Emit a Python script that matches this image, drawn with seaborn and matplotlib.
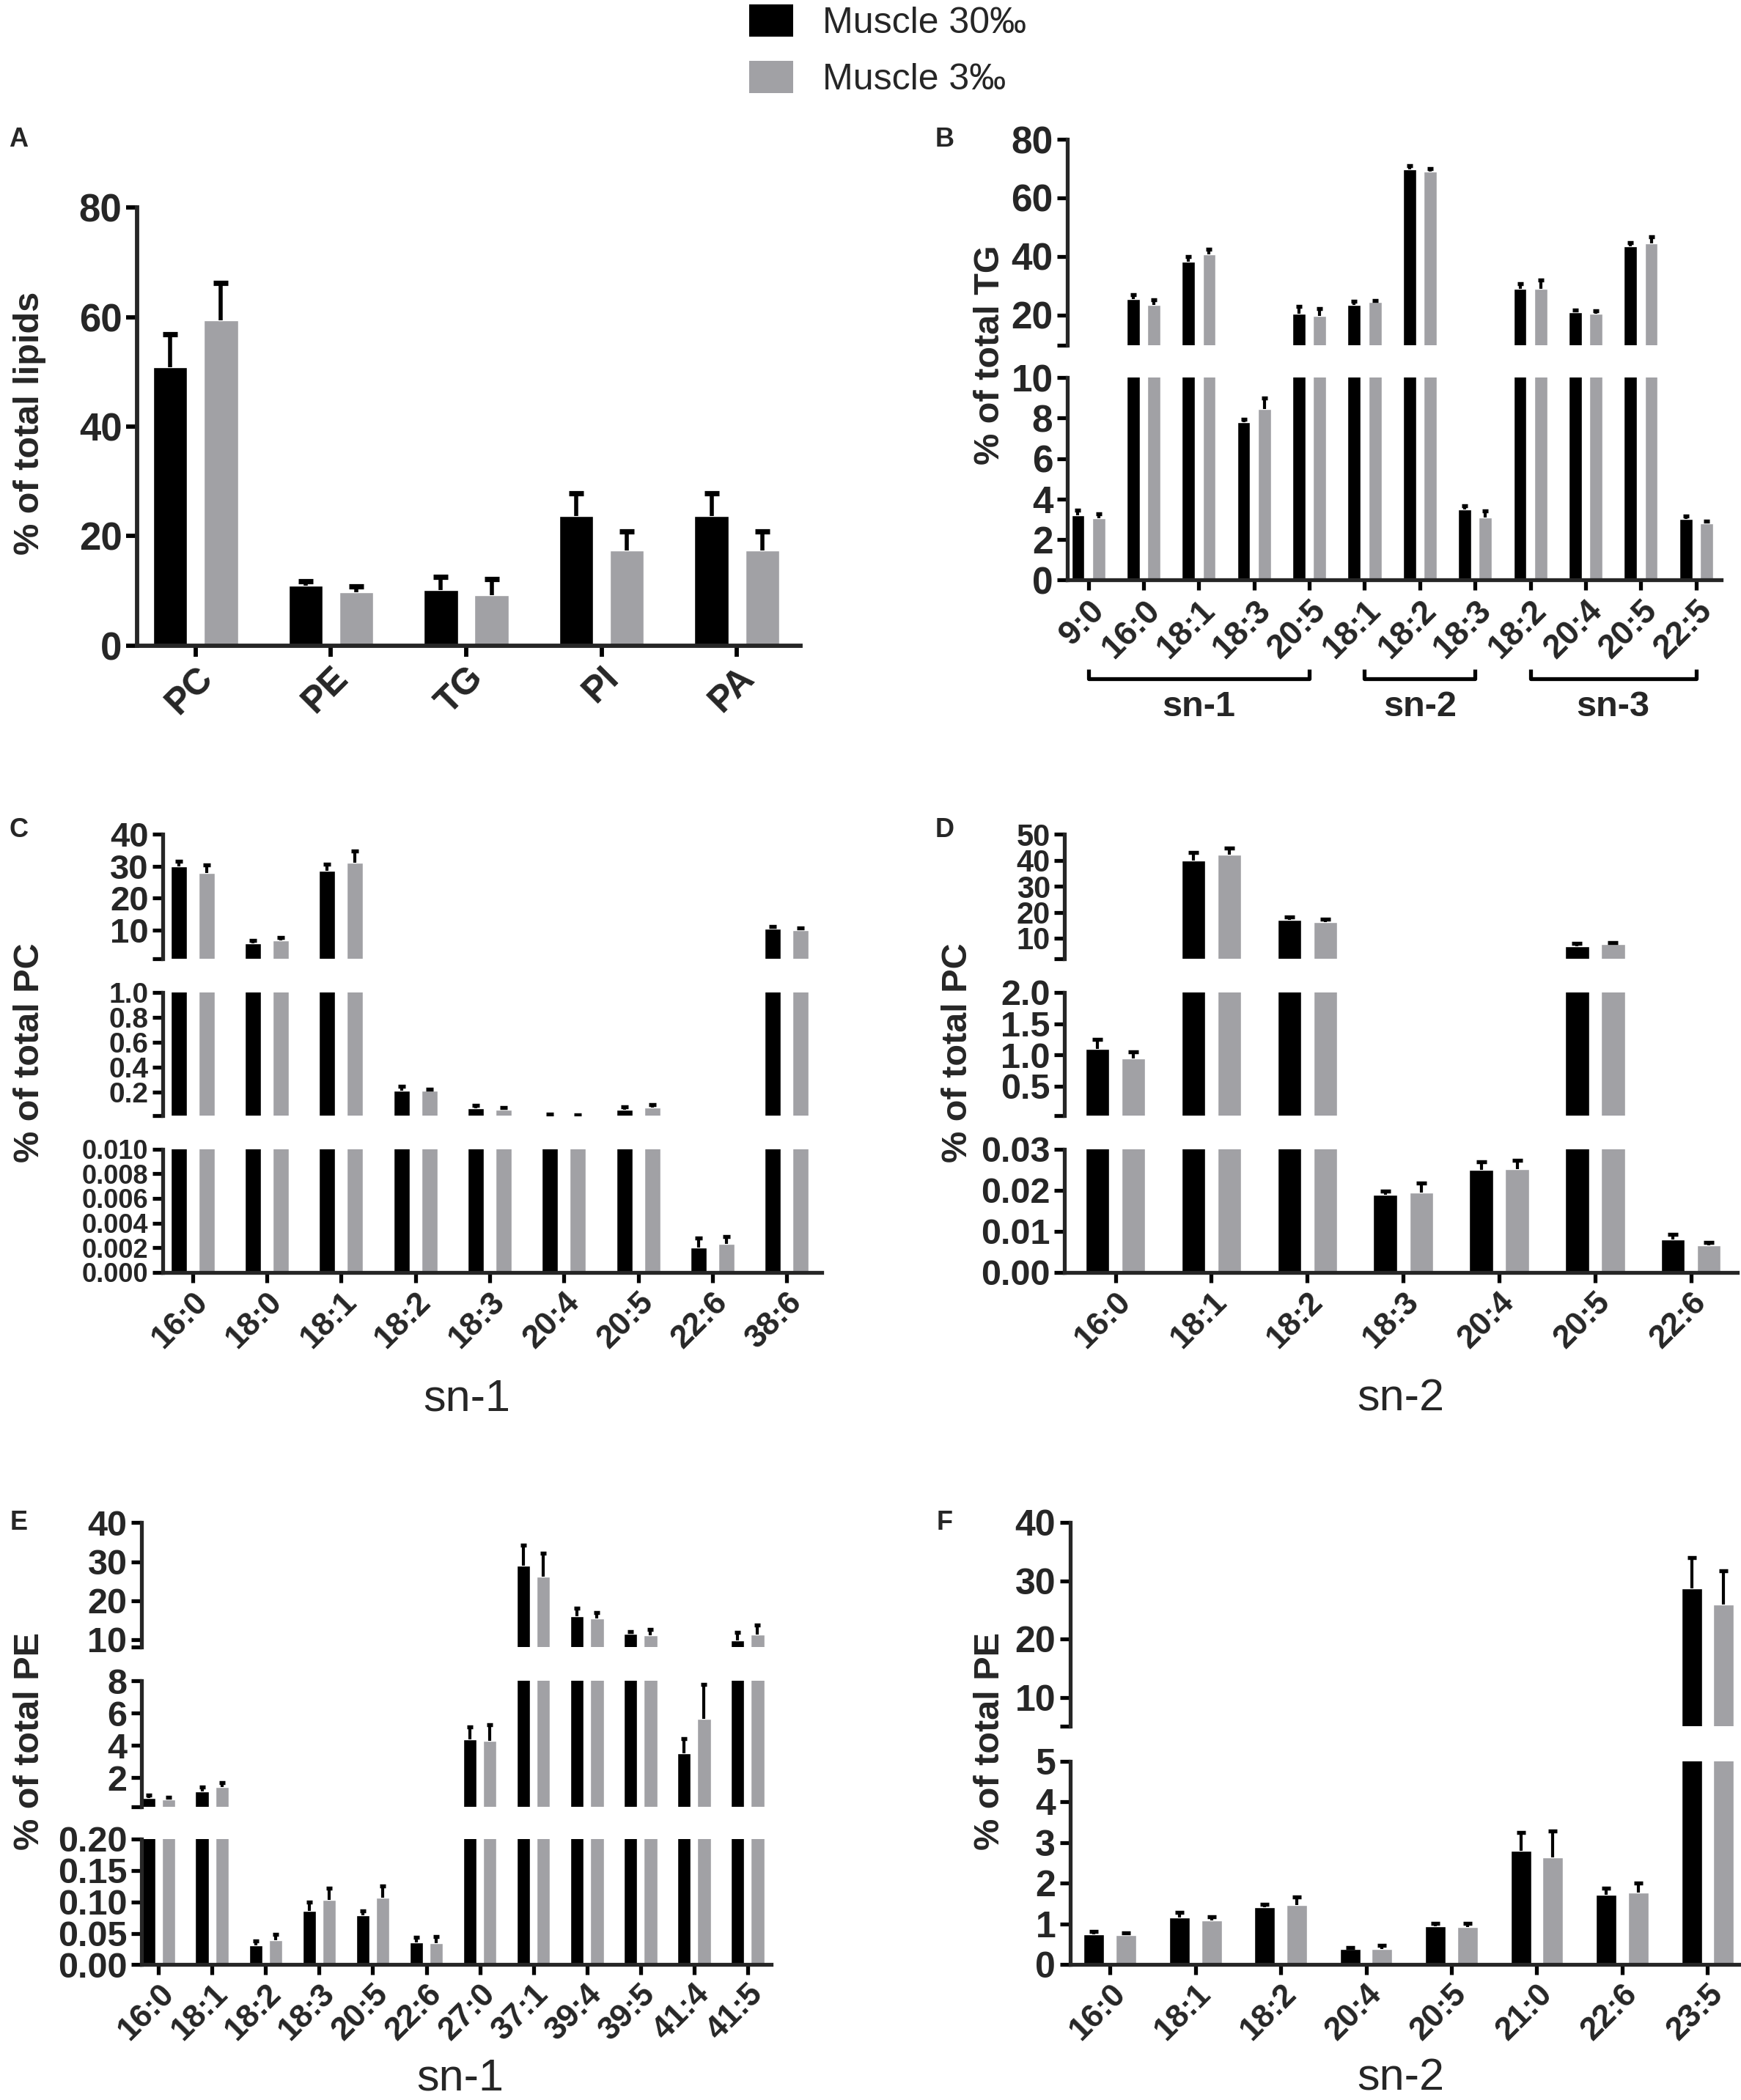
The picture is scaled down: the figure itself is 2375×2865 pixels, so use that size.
import numpy as np
import pandas as pd
import seaborn as sns
import matplotlib.pyplot as plt
from matplotlib.patches import Patch
import matplotlib.transforms as mtransforms

# ---- data ----
groups = ["Muscle 30‰", "Muscle 3‰"]

a_cats = ["PC", "PE", "TG", "PI", "PA"]
a_hi = [50.8, 11.0, 10.2, 23.6, 23.6]
a_hi_err = [6.1, 0.7, 2.4, 4.2, 4.2]
a_lo = [59.4, 9.7, 9.2, 17.4, 17.4]
a_lo_err = [6.8, 1.1, 3.0, 3.5, 3.5]

b_cats = ["9:0", "16:0", "18:1", "18:3", "20:5", "18:1", "18:2", "18:3",
          "18:2", "20:4", "20:5", "22:5"]
b_hi = [3.2, 25.3, 38.2, 7.8, 20.5, 23.3, 69.7, 3.5, 28.9, 20.8, 43.5, 3.0]
b_hi_err = [0.25, 1.5, 1.7, 0.15, 2.3, 1.4, 1.3, 0.15, 1.7, 0.9, 1.3, 0.15]
b_lo = [3.05, 23.3, 40.6, 8.45, 19.7, 24.4, 69.1, 3.1, 29.0, 20.3, 44.4, 2.8]
b_lo_err = [0.2, 1.8, 1.9, 0.55, 2.5, 0.5, 0.9, 0.3, 2.8, 1.0, 2.3, 0.1]
b_positions = [("sn-1", 0, 4), ("sn-2", 5, 7), ("sn-3", 8, 11)]

c_cats = ["16:0", "18:0", "18:1", "18:2", "18:3", "20:4", "20:5", "22:6", "38:6"]
c_hi = [30.0, 5.9, 28.6, 0.21, 0.071, 0.013, 0.056, 0.0020, 10.5]
c_hi_err = [1.6, 1.0, 2.1, 0.035, 0.022, 0.008, 0.024, 0.0008, 0.6]
c_lo = [27.9, 6.7, 31.2, 0.21, 0.056, 0.011, 0.077, 0.0023, 10.0]
c_lo_err = [2.5, 0.9, 3.6, 0.015, 0.021, 0.008, 0.019, 0.0006, 0.7]

d_cats = ["16:0", "18:1", "18:2", "18:3", "20:4", "20:5", "22:6"]
d_hi = [1.10, 40.0, 17.1, 0.0188, 0.0249, 7.0, 0.0080]
d_hi_err = [0.15, 2.9, 1.2, 0.0010, 0.0021, 1.0, 0.0012]
d_lo = [0.94, 42.2, 16.1, 0.0194, 0.0251, 7.8, 0.0065]
d_lo_err = [0.11, 2.5, 1.3, 0.0023, 0.0021, 0.6, 0.0007]

e_cats = ["16:0", "18:1", "18:2", "18:3", "20:5", "22:6", "27:0", "37:1",
          "39:4", "39:5", "41:4", "41:5"]
e_hi = [0.72, 1.14, 0.031, 0.086, 0.078, 0.036, 4.35, 29.0, 15.9, 11.5, 3.53, 9.7]
e_hi_err = [0.18, 0.26, 0.007, 0.014, 0.008, 0.008, 0.81, 5.3, 2.1, 0.5, 0.9, 2.1]
e_lo = [0.65, 1.40, 0.039, 0.103, 0.106, 0.034, 4.27, 26.1, 15.4, 11.0, 5.65, 11.2]
e_lo_err = [0.12, 0.3, 0.009, 0.019, 0.019, 0.011, 1.0, 6.0, 1.5, 1.6, 2.15, 2.6]

f_cats = ["16:0", "18:1", "18:2", "20:4", "20:5", "21:0", "22:6", "23:5"]
f_hi = [0.75, 1.16, 1.42, 0.39, 0.95, 2.80, 1.71, 28.7]
f_hi_err = [0.07, 0.12, 0.07, 0.03, 0.06, 0.45, 0.17, 5.3]
f_lo = [0.72, 1.09, 1.47, 0.39, 0.93, 2.63, 1.78, 26.0]
f_lo_err = [0.07, 0.08, 0.19, 0.08, 0.08, 0.65, 0.22, 5.8]

# ---- style ----
BLACK = "#000000"
GREY = "#a1a1a5"
palette = [BLACK, GREY]
FIG_W, FIG_H = 23.75, 28.65
REF_W, REF_H = 1305.0, 1568.0
COND = ["Liberation Sans Narrow", "Liberation Sans", "DejaVu Sans"]
REG = ["Liberation Sans", "DejaVu Sans"]

sns.set_style("ticks")
plt.rcParams["font.family"] = REG


def box(x0, x1, y0, y1):
    # reference-pixel rectangle -> figure fraction
    return [x0 / REF_W, 1 - y1 / REF_H, (x1 - x0) / REF_W, (y1 - y0) / REF_H]


def draw_bars(ax, cats, hi, hi_err, lo, lo_err, spec, ylim):
    keys = [str(i) for i in range(len(cats))]
    df = pd.DataFrame({
        "key": keys + keys,
        "value": list(hi) + list(lo),
        "group": [groups[0]] * len(cats) + [groups[1]] * len(cats),
    })
    sns.barplot(data=df, x="key", y="value", hue="group", order=keys,
                hue_order=groups, palette=palette, saturation=1, width=0.75,
                gap=spec["gap"], errorbar=None, legend=False, ax=ax, zorder=2)
    ax.set_xlim(*spec["xlim"])

    # one-sided (upper) error bars, black
    errs = [hi_err, lo_err]
    xs, ys, es, ws = [], [], [], []
    for p in ax.patches:
        cx = p.get_x() + p.get_width() / 2
        i = int(round(cx))
        k = 0 if cx < i else 1
        xs.append(cx)
        ys.append(p.get_height())
        es.append(errs[k][i])
        ws.append(p.get_width())
    xs, ys, es = np.array(xs), np.array(ys), np.array(es)
    tops = ys + es
    # only the part of an error bar that reaches into this segment
    keep = (tops > ylim[0]) & (ys < ylim[1])
    pos = ax.get_position()
    pts_per_unit = pos.width * FIG_W * 72 / (spec["xlim"][1] - spec["xlim"][0])
    cap = np.mean(ws) * pts_per_unit * 0.45
    ax.vlines(xs[keep], ys[keep], tops[keep], colors="black",
              linewidth=spec["elw"], zorder=3)
    top_in = keep & (tops <= ylim[1])
    ax.plot(xs[top_in], tops[top_in], ls="none", marker="_", color="black",
            markersize=cap, markeredgewidth=spec["elw"] * 1.3, zorder=3)
    ax.set_xlabel("")
    ax.set_ylabel("")


def make_panel(fig, cats, hi, hi_err, lo, lo_err, spec):
    axes = []
    nseg = len(spec["segs"])
    for j, (y0, y1, ylim, ticks, fmt, yfs) in enumerate(spec["segs"]):
        ax = fig.add_axes(box(spec["x0"], spec["x1"], y0, y1))
        draw_bars(ax, cats, hi, hi_err, lo, lo_err, spec, ylim)
        ax.set_ylim(*ylim)
        sns.despine(ax=ax)
        tick_vals = list(ticks)
        tick_labs = [fmt % t for t in ticks]
        if ylim[0] not in tick_vals:
            tick_vals = [ylim[0]] + tick_vals
            tick_labs = [""] + tick_labs
        ax.set_yticks(tick_vals)
        ax.set_yticklabels(tick_labs, fontsize=yfs, fontweight="bold",
                           family=COND)
        ax.spines["left"].set_linewidth(spec["slw"])
        ax.spines["bottom"].set_linewidth(spec["slw"])
        ax.tick_params(axis="both", width=spec["slw"], length=spec["tl"],
                       pad=4, color="black")
        if j < nseg - 1:
            ax.spines["bottom"].set_visible(False)
            ax.tick_params(axis="x", bottom=False, labelbottom=False)
        else:
            ax.set_xticks(range(len(cats)))
            ax.set_xticklabels(cats, rotation=45, ha="right",
                               rotation_mode="anchor", fontsize=spec["xfs"],
                               fontweight="bold", family=spec["xfam"])
        ax.set_facecolor("none")
        axes.append(ax)
    return axes


fig = plt.figure(figsize=(FIG_W, FIG_H), dpi=100)

spec_a = dict(x0=103, x1=600,
              segs=[(155, 482, (0, 80), [0, 20, 40, 60, 80], "%g", 38)],
              xlim=(-0.43, 4.47), gap=0.33, elw=4.0, slw=4.2, tl=11,
              xfs=36, xfam=REG)
spec_b = dict(x0=800, x1=1290,
              segs=[(104, 258, (9.5, 80), [20, 40, 60, 80], "%g", 37),
                    (282, 433, (0, 10), [0, 2, 4, 6, 8, 10], "%g", 37)],
              xlim=(-0.38, 11.45), gap=0.37, elw=3.0, slw=3.8, tl=10,
              xfs=33, xfam=COND)
spec_c = dict(x0=122, x1=616,
              segs=[(623, 716, (1, 40), [10, 20, 30, 40], "%g", 34),
                    (741, 833, (0.01, 1.0), [0.2, 0.4, 0.6, 0.8, 1.0], "%.1f", 28),
                    (858, 950, (0, 0.010), [0, 0.002, 0.004, 0.006, 0.008, 0.010],
                     "%.3f", 26)],
              xlim=(-0.40, 8.47), gap=0.42, elw=3.0, slw=3.8, tl=10,
              xfs=32, xfam=COND)
spec_d = dict(x0=798, x1=1302,
              segs=[(623, 716, (2, 50), [10, 20, 30, 40, 50], "%g", 30),
                    (741, 833, (0.03, 2.0), [0.5, 1.0, 1.5, 2.0], "%.1f", 35),
                    (858, 950, (0, 0.03), [0, 0.01, 0.02, 0.03], "%.2f", 35)],
              xlim=(-0.53, 6.48), gap=0.34, elw=3.0, slw=3.8, tl=10,
              xfs=32, xfam=COND)
spec_e = dict(x0=106, x1=578,
              segs=[(1137, 1230, (8, 40), [10, 20, 30, 40], "%g", 35),
                    (1255, 1349, (0.2, 8), [2, 4, 6, 8], "%g", 35),
                    (1373, 1467, (0, 0.2), [0, 0.05, 0.10, 0.15, 0.20], "%.2f", 35)],
              xlim=(-0.32, 11.44), gap=0.33, elw=3.0, slw=3.8, tl=10,
              xfs=32, xfam=COND)
spec_f = dict(x0=802, x1=1310,
              segs=[(1137, 1289, (5, 40), [10, 20, 30, 40], "%g", 36),
                    (1315, 1467, (0, 5), [0, 1, 2, 3, 4, 5], "%g", 36)],
              xlim=(-0.47, 7.47), gap=0.36, elw=3.0, slw=3.8, tl=10,
              xfs=32, xfam=COND)

make_panel(fig, a_cats, a_hi, a_hi_err, a_lo, a_lo_err, spec_a)
axes_b = make_panel(fig, b_cats, b_hi, b_hi_err, b_lo, b_lo_err, spec_b)
make_panel(fig, c_cats, c_hi, c_hi_err, c_lo, c_lo_err, spec_c)
make_panel(fig, d_cats, d_hi, d_hi_err, d_lo, d_lo_err, spec_d)
make_panel(fig, e_cats, e_hi, e_hi_err, e_lo, e_lo_err, spec_e)
make_panel(fig, f_cats, f_hi, f_hi_err, f_lo, f_lo_err, spec_f)

# sn brackets under panel B
axb = axes_b[-1]
trans = mtransforms.blended_transform_factory(axb.transData, axb.transAxes)
for name, i0, i1 in b_positions:
    axb.plot([i0, i0, i1, i1], [-0.44, -0.49, -0.49, -0.44], color="black",
             lw=3.8, transform=trans, clip_on=False, solid_capstyle="butt")
    axb.text((i0 + i1) / 2, -0.63, name, transform=trans, ha="center",
             va="center", fontsize=35, fontweight="bold", family=COND)

# axis titles
ylab_kw = dict(rotation=90, ha="center", va="center", fontsize=35,
               fontweight="bold", family=REG)
fig.text(22 / REF_W, 1 - 316 / REF_H, "% of total lipids", **ylab_kw)
fig.text(742 / REF_W, 1 - 265 / REF_H, "% of total TG", **ylab_kw)
fig.text(22 / REF_W, 1 - 786 / REF_H, "% of total PC", **ylab_kw)
fig.text(718 / REF_W, 1 - 786 / REF_H, "% of total PC", **ylab_kw)
fig.text(22 / REF_W, 1 - 1300 / REF_H, "% of total PE", **ylab_kw)
fig.text(742 / REF_W, 1 - 1300 / REF_H, "% of total PE", **ylab_kw)

xlab_kw = dict(ha="center", va="center", fontsize=44, family=REG)
fig.text(350 / REF_W, 1 - 1045 / REF_H, "sn-1", **xlab_kw)
fig.text(1050 / REF_W, 1 - 1045 / REF_H, "sn-2", **xlab_kw)
fig.text(345 / REF_W, 1 - 1552 / REF_H, "sn-1", **xlab_kw)
fig.text(1050 / REF_W, 1 - 1552 / REF_H, "sn-2", **xlab_kw)

# panel letters
for letter, (px, py) in zip("ABCDEF", [(14, 104), (708, 104), (14, 620),
                                        (708, 620), (14, 1137), (708, 1137)]):
    fig.text(px / REF_W, 1 - py / REF_H, letter, ha="center", va="center",
             fontsize=26, fontweight="bold", family=COND)

# legend
handles = [Patch(facecolor=c, edgecolor="none") for c in palette]
fig.legend(handles, groups, loc="upper left", bbox_to_anchor=(0.422, 1.005),
           frameon=False, fontsize=36, handlelength=1.2, handleheight=1.0,
           handletextpad=0.8, labelspacing=0.55, borderaxespad=0)

fig.savefig("out.png", dpi=100)
